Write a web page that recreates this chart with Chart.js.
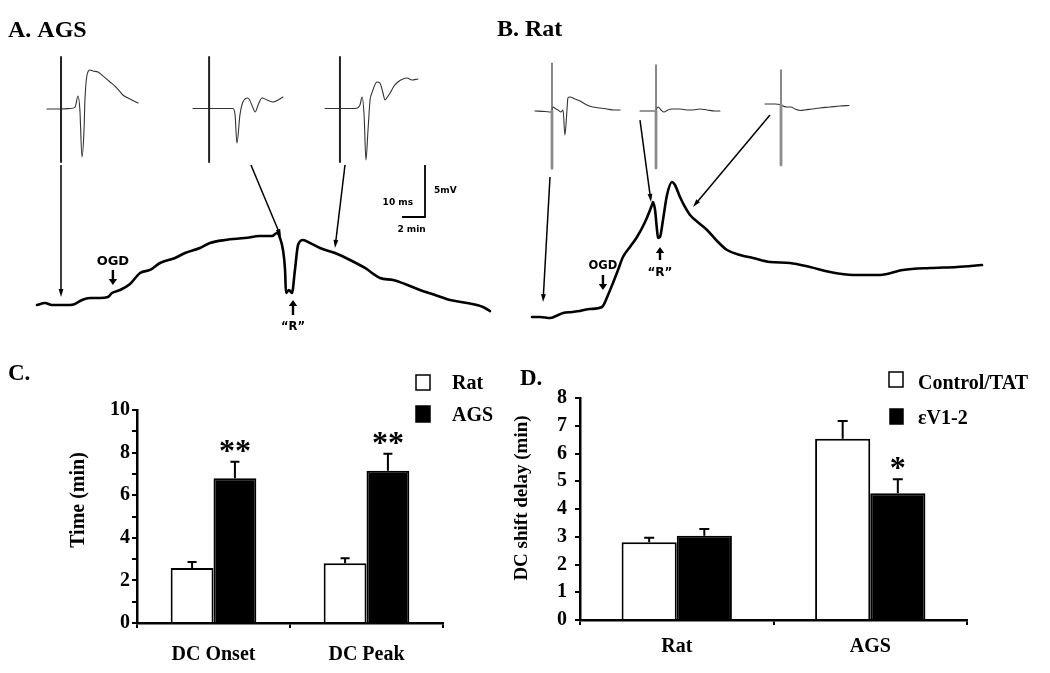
<!DOCTYPE html>
<html>
<head>
<meta charset="utf-8">
<script src="https://cdn.jsdelivr.net/npm/chart.js"></script>
<style>
html,body{margin:0;padding:0;background:#ffffff;}
#fig{position:relative;width:1050px;height:673px;background:#ffffff;overflow:hidden;}
#fig canvas{position:absolute;}
</style>
</head>
<body>
<div id="fig">
  <canvas id="panelA" width="520" height="340" style="left:0px;top:0px;"></canvas>
  <canvas id="panelB" width="560" height="340" style="left:490px;top:0px;"></canvas>
  <canvas id="panelC" width="500" height="343" style="left:0px;top:330px;"></canvas>
  <canvas id="panelD" width="550" height="343" style="left:500px;top:330px;"></canvas>
</div>
<script>
// ================= DATA =================
// Panel A - AGS slice: DC potential trace (time in min, potential in mV)
const agsDcTime = [0,0.7,1.3,2.87,3.3,3.91,4.61,5.48,6.17,6.52,7.22,8.09,8.96,9.83,10.7,12.0,12.87,14.17,15.04,16.35,18.09,19.39,20.43,20.87,21.13,21.39,21.57,21.65,21.91,22.17,22.43,22.7,23.13,23.74,24.61,25.91,27.22,28.52,29.83,30.96,32.0,33.3,34.61,35.91,37.39,38.78,39.39];
const agsDcMv   = [0,0.19,0,0,0.1,0.48,0.67,0.67,0.77,1.15,1.44,2.02,3.08,3.37,4.04,4.52,5.0,5.48,5.96,6.25,6.44,6.63,6.63,6.92,6.44,5.29,3.37,1.15,1.44,1.15,3.37,5.77,6.25,5.96,5.48,5.0,4.33,3.56,2.6,2.4,2.02,1.44,0.96,0.48,0.19,-0.19,-0.58];
// Panel A - evoked field potentials (time in ms, potential in mV)
const agsEp1Time = [0,6.1,10.0,12.2,13.5,14.3,15.2,16.1,16.5,17.4,18.7,20.0,22.2,24.3,27.4,30.4,33.0,36.1,39.6];
const agsEp1Mv   = [-0.05,-0.05,0,0.14,1.2,-0.14,-4.66,-2.07,0.82,3.22,3.7,3.6,3.5,3.13,2.55,1.97,1.3,0.91,0.53];
const agsEp2Time = [0,17.4,18.3,19.1,20.4,21.7,23.9,26.1,27.0,28.3,30.0,32.2,34.8,37.0,39.1];
const agsEp2Mv   = [0,0,-0.63,-3.32,-0.63,0.63,1.01,0.05,-0.34,0.34,1.01,0.82,0.63,0.82,1.11];
const agsEp3Time = [0,13.0,15.2,16.1,17.0,17.8,18.7,19.6,20.4,22.6,23.9,25.2,26.1,27.4,28.3,30.0,31.7,33.9,35.7,37.8,40.4];
const agsEp3Mv   = [0,0,0.34,1.11,-0.63,-4.95,-2.07,0.82,1.49,2.55,2.45,1.49,0.82,1.2,1.49,2.16,2.55,2.84,2.93,2.74,2.84];
const agsStimTime = [6.1, 7.0, 6.5];
const agsStimTop  = [4.95, 4.95, 4.95];
const agsStimBot  = [-5.14, -5.14, -5.14];

// Panel B - Rat slice
const ratDcTime = [0,0.70,1.57,2.09,2.70,3.48,4.17,5.04,6.09,6.61,7.04,7.48,7.91,8.52,9.13,9.83,10.43,10.52,10.70,10.87,10.96,11.13,11.39,11.74,12.17,12.43,12.87,13.30,13.74,14.61,15.22,16.09,16.96,18.09,19.22,20.70,22.43,24.17,25.91,27.91,30.26,32.26,34.61,36.96,39.13];
const ratDcMv   = [0,0,-0.10,0.10,0.38,0.48,0.58,0.77,0.96,2.12,3.27,4.52,5.77,6.73,7.69,9.13,10.77,11.06,10.29,8.37,7.60,7.69,9.33,11.73,12.98,12.69,11.54,10.58,9.81,8.94,8.37,7.31,6.44,5.96,5.67,5.29,5.19,4.81,4.33,4.04,4.04,4.52,4.71,4.81,5.0];
const ratEp1Time = [0,4.35,6.96,7.83,9.13,10.0,11.3,12.2,13.0,13.9,14.3,15.2,17.4,19.6,22.6,25.2,28.3,31.3,34.3,37.0];
const ratEp1Mv   = [0,-0.05,-0.1,0.38,0.19,0.1,-0.1,0.1,-2.31,0.1,1.25,1.35,1.15,0.96,0.58,0.38,0.29,0.19,0.1,0.1];
const ratEp2Time = [0,6.52,7.83,9.13,10.43,12.17,13.91,17.39,20.43,23.04,26.09,29.13,32.61,34.78];
const ratEp2Mv   = [0,0,0.38,0.1,-0.1,0.1,0.19,0.19,0.1,0.1,0.19,0.1,0,0];
const ratEp3Time = [0,4.35,6.52,7.83,9.57,11.3,13.04,15.22,17.39,20.43,23.91,28.26,32.61,36.52];
const ratEp3Mv   = [0.67,0.67,0.62,0.48,0.38,0.38,0.19,0.05,0.1,0.19,0.29,0.38,0.48,0.53];
const ratStimTime = [7.39, 6.96, 6.96];
const ratStimTop  = [4.59, 4.42, 3.94];
const ratStimMid  = [0, 0, 0.6];
const ratStimBot  = [-5.51, -5.48, -5.19];

// Panel C - time to DC shift (min)
const cCategories = ['DC Onset', 'DC Peak'];
const cRatMean = [2.58, 2.80];
const cRatErr  = [0.28, 0.24];
const cAgsMean = [6.79, 7.15];
const cAgsErr  = [0.78, 0.80];
const cAgsSig  = ['**', '**'];
const cTicks   = [0, 10, 1];   // min, max, step

// Panel D - DC shift delay (min)
const dCategories = ['Rat', 'AGS'];
const dCtrlMean = [2.80, 6.53];
const dCtrlErr  = [0.16, 0.64];
const dEvMean   = [3.04, 4.57];
const dEvErr    = [0.24, 0.50];
const dEvSig    = ['', '*'];
const dTicks    = [0, 8, 1];

// ================= HELPERS =================
const SERIF = '"Liberation Serif", "Times New Roman", serif';
const SANS = '"DejaVu Sans", Verdana, sans-serif';
function pts(T, V) { return T.map((t, i) => ({ x: t, y: V[i] })); }
function vseg(t, a, b) { return [{ x: t, y: a }, { x: t, y: b }]; }
function hRange(originPx, ppu, sizePx) { return { min: -originPx / ppu, max: (sizePx - originPx) / ppu }; }
function vRange(originPx, ppu, sizePx) { return { min: -(sizePx - originPx) / ppu, max: originPx / ppu }; }
function hid(r) { return Object.assign({ type: 'linear', display: false, bounds: 'data' }, r); }

function drawArrow(ctx, x1, y1, x2, y2, lw, len, half) {
  const ang = Math.atan2(y2 - y1, x2 - x1);
  const c = Math.cos(ang), s = Math.sin(ang);
  const bx = x2 - len * c, by = y2 - len * s;
  ctx.lineWidth = lw;
  ctx.beginPath(); ctx.moveTo(x1, y1); ctx.lineTo(bx + 0.5 * c, by + 0.5 * s); ctx.stroke();
  ctx.beginPath();
  ctx.moveTo(x2, y2);
  ctx.lineTo(bx + half * s, by - half * c);
  ctx.lineTo(bx - half * s, by + half * c);
  ctx.closePath(); ctx.fill();
}

const traceAnnot = {
  id: 'traceAnnot',
  afterDatasetsDraw(chart, args, o) {
    const ctx = chart.ctx, S = chart.scales;
    const px = p => [S[p[0]].getPixelForValue(p[2]), S[p[1]].getPixelForValue(p[3])];
    ctx.save();
    ctx.strokeStyle = '#000'; ctx.fillStyle = '#000';
    ctx.font = 'bold 24px ' + SERIF; ctx.textAlign = 'left'; ctx.textBaseline = 'alphabetic';
    ctx.fillText(o.title, o.titlePos[0], o.titlePos[1]);
    o.leaders.forEach(a => {
      const [x1, y1] = px(a[0]); const [x2, y2] = px(a[1]);
      drawArrow(ctx, x1, y1, x2, y2, 1.5, 8, 2.4);
    });
    o.markers.forEach(m => {
      const x = S.x.getPixelForValue(m.t);
      drawArrow(ctx, x, S.y.getPixelForValue(m.tail), x, S.y.getPixelForValue(m.tip), 2.4, 6, 4.2);
      ctx.font = 'bold ' + m.size + 'px ' + SANS; ctx.textAlign = 'center'; ctx.textBaseline = 'middle';
      ctx.fillText(m.text, x, S.y.getPixelForValue(m.label));
    });
    if (o.scaleBar) {
      const b = o.scaleBar;
      const cx = S.x.getPixelForValue(b.t), cy = S.y.getPixelForValue(b.v);
      const lx = S.x.getPixelForValue(b.t - b.dt), ty = S.y.getPixelForValue(b.v + b.dv);
      ctx.lineWidth = 1.8;
      ctx.beginPath(); ctx.moveTo(cx, ty); ctx.lineTo(cx, cy); ctx.lineTo(lx, cy); ctx.stroke();
      ctx.font = 'bold 9px ' + SANS; ctx.textBaseline = 'middle';
      ctx.textAlign = 'right'; ctx.fillText(b.xLabelShort, cx - 12, cy - 14);
      ctx.textAlign = 'left'; ctx.fillText(b.yLabel, cx + 9, cy - 26);
      ctx.textAlign = 'center'; ctx.fillText(b.xLabelLong, (cx + lx) / 2 - 2, cy + 13);
    }
    ctx.restore();
  }
};

function traceChart(id, W, H, L, series, annot) {
  const ds = [];
  series.stimT.forEach((t, i) => {
    if (series.stimMid) {
      ds.push({ data: vseg(t, series.stimMid[i], series.stimBot[i]), xAxisID: 'xIn' + (i + 1), yAxisID: 'yIn', borderColor: series.stimColor, borderWidth: series.stimWidth, tension: 0 });
      ds.push({ data: vseg(t, series.stimTop[i], series.stimMid[i]), xAxisID: 'xIn' + (i + 1), yAxisID: 'yIn', borderColor: '#555', borderWidth: 1.4, tension: 0 });
    } else {
      ds.push({ data: vseg(t, series.stimTop[i], series.stimBot[i]), xAxisID: 'xIn' + (i + 1), yAxisID: 'yIn', borderColor: series.stimColor, borderWidth: series.stimWidth, tension: 0 });
    }
  });
  series.ep.forEach((e, i) => {
    ds.push({ data: pts(e[0], e[1]), xAxisID: 'xIn' + (i + 1), yAxisID: 'yIn', borderColor: '#333', borderWidth: 1.1, cubicInterpolationMode: 'monotone' });
  });
  ds.push({ data: pts(series.dcT, series.dcV), xAxisID: 'x', yAxisID: 'y', borderColor: '#000', borderWidth: 2.6, cubicInterpolationMode: 'monotone' });
  const scales = {
    x: hid(hRange(L.dcX0, L.pxPerMin, W)),
    y: hid(vRange(L.dcY0, L.pxPerMv, H)),
    yIn: hid(vRange(L.epY0, L.pxPerMv, H))
  };
  L.epX0.forEach((x0, i) => { scales['xIn' + (i + 1)] = hid(hRange(x0, L.pxPerMs, W)); });
  return new Chart(document.getElementById(id), {
    type: 'scatter',
    data: { datasets: ds },
    options: {
      responsive: false, animation: false, devicePixelRatio: 1, events: [],
      layout: { padding: 0 },
      showLine: true,
      elements: { point: { radius: 0 }, line: { borderJoinStyle: 'round', borderCapStyle: 'round' } },
      scales: scales,
      plugins: { legend: { display: false }, tooltip: { enabled: false }, traceAnnot: annot }
    },
    plugins: [traceAnnot]
  });
}

// ---- Panel A ----
traceChart('panelA', 520, 340,
  { dcX0: 37, dcY0: 305, pxPerMin: 11.5, pxPerMv: 10.4, epX0: [47, 193, 325], epY0: 108.5, pxPerMs: 2.3 },
  { dcT: agsDcTime, dcV: agsDcMv, ep: [[agsEp1Time, agsEp1Mv], [agsEp2Time, agsEp2Mv], [agsEp3Time, agsEp3Mv]],
    stimT: agsStimTime, stimTop: agsStimTop, stimBot: agsStimBot, stimColor: '#222', stimWidth: 2 },
  { title: 'A. AGS', titlePos: [8, 37],
    leaders: [
      [['xIn1', 'yIn', 6.09, -5.43], ['x', 'y', 2.09, 0.77]],
      [['xIn2', 'yIn', 25.2, -5.43], ['x', 'y', 21.22, 6.54]],
      [['xIn3', 'yIn', 8.7, -5.43], ['x', 'y', 25.91, 5.48]]
    ],
    markers: [
      { text: 'OGD', t: 6.6, tail: 3.37, tip: 1.92, label: 4.13, size: 13 },
      { text: '\u201CR\u201D', t: 22.26, tail: -0.96, tip: 0.48, label: -2.12, size: 11.5 }
    ],
    scaleBar: { t: 33.74, v: 8.46, dt: 2, dv: 5, xLabelShort: '10 ms', xLabelLong: '2 min', yLabel: '5mV' }
  });

// ---- Panel B ----
traceChart('panelB', 560, 340,
  { dcX0: 42, dcY0: 317, pxPerMin: 11.5, pxPerMv: 10.4, epX0: [45, 150, 275], epY0: 111, pxPerMs: 2.3 },
  { dcT: ratDcTime, dcV: ratDcMv, ep: [[ratEp1Time, ratEp1Mv], [ratEp2Time, ratEp2Mv], [ratEp3Time, ratEp3Mv]],
    stimT: ratStimTime, stimTop: ratStimTop, stimMid: ratStimMid, stimBot: ratStimBot, stimColor: '#8c8c8c', stimWidth: 2.8 },
  { title: 'B. Rat', titlePos: [7, 36],
    leaders: [
      [['xIn1', 'yIn', 6.52, -6.35], ['x', 'y', 0.96, 1.44]],
      [['xIn2', 'yIn', 0, -0.87], ['x', 'y', 10.35, 11.06]],
      [['xIn3', 'yIn', 2.17, -0.38], ['x', 'y', 14.0, 10.58]]
    ],
    markers: [
      { text: 'OGD', t: 6.17, tail: 4.04, tip: 2.6, label: 4.9, size: 11.5 },
      { text: '\u201CR\u201D', t: 11.13, tail: 5.48, tip: 6.73, label: 4.23, size: 12 }
    ],
    scaleBar: null
  });

// ================= BAR CHARTS =================
const barAnnot = {
  id: 'barAnnot',
  afterDatasetsDraw(chart, args, o) {
    const ctx = chart.ctx, yS = chart.scales.y;
    ctx.save();
    ctx.strokeStyle = '#000'; ctx.fillStyle = '#000';
    chart.data.datasets.forEach((ds, di) => {
      const meta = chart.getDatasetMeta(di);
      meta.data.forEach((el, i) => {
        const top = yS.getPixelForValue(ds.data[i] + ds.errors[i]);
        ctx.lineWidth = 2;
        ctx.beginPath(); ctx.moveTo(el.x, el.y); ctx.lineTo(el.x, top);
        ctx.moveTo(el.x - o.capHalf, top); ctx.lineTo(el.x + o.capHalf, top); ctx.stroke();
        if (ds.signif && ds.signif[i]) {
          ctx.font = 'bold 32px ' + SERIF; ctx.textAlign = 'center'; ctx.textBaseline = 'alphabetic';
          ctx.fillText(ds.signif[i], el.x, top + o.starDy);
        }
      });
    });
    // legend
    chart.data.datasets.forEach((ds, di) => {
      const it = o.legend[di];
      ctx.fillStyle = ds.backgroundColor;
      ctx.fillRect(it.box[0], it.box[1], it.box[2], it.box[3]);
      ctx.lineWidth = 1.5; ctx.strokeStyle = '#000';
      ctx.strokeRect(it.box[0], it.box[1], it.box[2], it.box[3]);
      ctx.fillStyle = '#000';
      ctx.font = 'bold 20px ' + SERIF; ctx.textAlign = 'left'; ctx.textBaseline = 'alphabetic';
      ctx.fillText(ds.label, it.text[0], it.text[1]);
    });
    // panel letter
    ctx.font = 'bold 23px ' + SERIF; ctx.textAlign = 'left'; ctx.textBaseline = 'alphabetic';
    ctx.fillText(o.letter, o.letterPos[0], o.letterPos[1]);
    // y axis title
    ctx.save();
    ctx.translate(o.yTitlePos[0], o.yTitlePos[1]); ctx.rotate(-Math.PI / 2);
    ctx.font = 'bold ' + o.yTitleSize + 'px ' + SERIF; ctx.textAlign = 'center'; ctx.textBaseline = 'middle';
    ctx.fillText(o.yTitle, 0, 0);
    ctx.restore();
    ctx.restore();
  }
};

function barChart(id, cats, dsets, ticks, L, annot, labelFn) {
  const font = { family: SERIF, size: 20, weight: 'bold', lineHeight: 1.2 };
  return new Chart(document.getElementById(id), {
    type: 'bar',
    data: { labels: cats, datasets: dsets.map(d => Object.assign({
      borderColor: '#000', borderWidth: 2, categoryPercentage: L.catPct, barPercentage: 1.0
    }, d)) },
    options: {
      responsive: false, animation: false, devicePixelRatio: 1, events: [],
      layout: { padding: { top: L.top, right: L.right, left: 0, bottom: 0 } },
      scales: {
        x: {
          grid: { display: true, drawOnChartArea: false, offset: true, tickLength: 5, lineWidth: 2, color: '#000', tickColor: '#000' },
          border: { display: true, color: '#000', width: 2.5 },
          ticks: { color: '#000', font: font, padding: L.xPad, maxRotation: 0 },
          afterFit: s => { s.height = L.xH; }
        },
        y: {
          min: ticks[0], max: ticks[1],
          grid: { display: true, drawOnChartArea: false, tickLength: 5, lineWidth: 2, color: '#000', tickColor: '#000' },
          border: { display: true, color: '#000', width: 2.5 },
          ticks: { stepSize: ticks[2], autoSkip: false, color: '#000', font: font, padding: L.yPad, callback: labelFn },
          afterFit: s => { s.width = L.yW; }
        }
      },
      plugins: { legend: { display: false }, tooltip: { enabled: false }, barAnnot: annot }
    },
    plugins: [barAnnot]
  });
}

// ---- Panel C ----
barChart('panelC', cCategories, [
  { label: 'Rat', data: cRatMean, errors: cRatErr, backgroundColor: '#ffffff' },
  { label: 'AGS', data: cAgsMean, errors: cAgsErr, backgroundColor: '#000000', signif: cAgsSig }
], cTicks,
  { top: 80, right: 57, yW: 137, xH: 50, xPad: 15, yPad: 2, catPct: 0.56 },
  { capHalf: 4.5, starDy: -1,
    legend: [{ box: [416, 45, 14, 15], text: [452, 59] }, { box: [416, 76, 14, 16], text: [452, 91] }],
    letter: 'C.', letterPos: [8, 50],
    yTitle: 'Time (min)', yTitlePos: [79, 170], yTitleSize: 20 },
  v => (v % 2 === 0 ? v : ''));

// ---- Panel D ----
barChart('panelD', dCategories, [
  { label: 'Control/TAT', data: dCtrlMean, errors: dCtrlErr, backgroundColor: '#ffffff' },
  { label: '\u03B5V1-2', data: dEvMean, errors: dEvErr, backgroundColor: '#000000', signif: dEvSig }
], dTicks,
  { top: 68, right: 83, yW: 80, xH: 53, xPad: 10, yPad: 8, catPct: 0.57 },
  { capHalf: 5, starDy: -1,
    legend: [{ box: [389, 42, 14, 15], text: [418, 59] }, { box: [390, 79, 13, 15], text: [418, 94] }],
    letter: 'D.', letterPos: [20, 55],
    yTitle: 'DC shift delay (min)', yTitlePos: [22, 168], yTitleSize: 19 },
  v => v);
</script>
</body>
</html>
